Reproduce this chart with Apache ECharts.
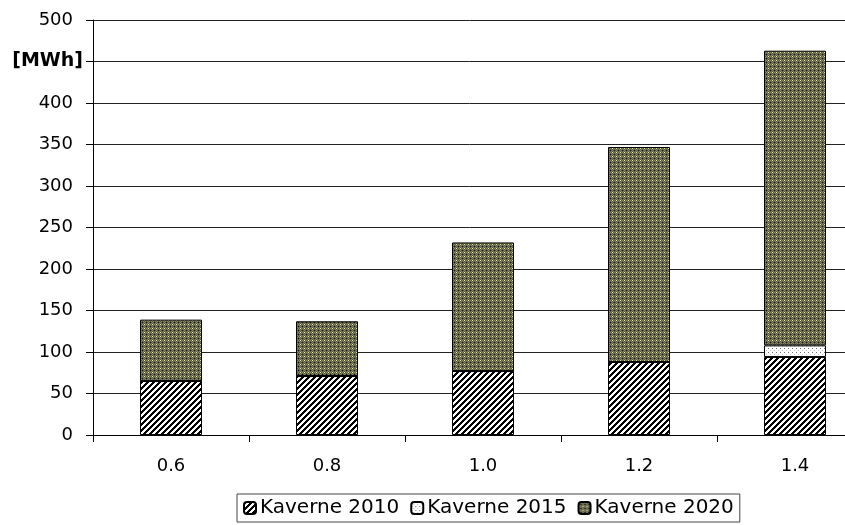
<!DOCTYPE html>
<html><head><meta charset="utf-8">
<script src="https://cdn.jsdelivr.net/npm/echarts@6/dist/echarts.min.js"></script>
<style>html,body{margin:0;padding:0;background:#fff}#c{width:845px;height:525px}</style>
</head><body><div id="c"></div>
<script>
const categories = ['0.6', '0.8', '1.0', '1.2', '1.4'];
const kaverne2010 = [65, 71, 77, 88, 94];
const kaverne2015 = [0, 0, 0, 0, 14];
const kaverne2020 = [74, 66, 155, 259, 355];
const seriesNames = ['Kaverne 2010', 'Kaverne 2015', 'Kaverne 2020'];

function makeTile(size, fn) {
  const cv = document.createElement('canvas');
  cv.width = size; cv.height = size;
  const ctx = cv.getContext('2d');
  const img = ctx.createImageData(size, size);
  for (let y = 0; y < size; y++) for (let x = 0; x < size; x++) {
    const c = fn(x, y);
    const i = (y * size + x) * 4;
    img.data[i] = c[0]; img.data[i+1] = c[1]; img.data[i+2] = c[2]; img.data[i+3] = 255;
  }
  ctx.putImageData(img, 0, 0);
  return cv;
}
const hatch = makeTile(6, (x, y) => ((x + y) % 6 < 3 ? [0,0,0] : [255,255,255]));
const dots = makeTile(4, (x, y) => {
  if (x === 0 && y === 0) return [110,110,110];
  if (x === 2 && y === 2) return [200,200,200];
  return [255,255,255];
});
const check = makeTile(4, (x, y) => {
  if (x === 0 && y === 0) return [235,235,170];
  if (x === 2 && y === 2) return [20,20,10];
  if ((x + y) % 2 === 1) return [90,90,66];
  return [130,130,100];
});

const chart = echarts.init(document.getElementById('c'));
const font = 'DejaVu Sans, sans-serif';
chart.setOption({
  animation: false,
  grid: { left: 93, width: 780, top: 20, height: 415, outerBoundsMode: 'none', containLabel: false },
  xAxis: {
    type: 'category', data: categories,
    axisLine: { lineStyle: { color: '#000', width: 1 } },
    axisTick: { show: true, length: 7, lineStyle: { color: '#000' } },
    axisLabel: { color: '#000', fontSize: 18, fontFamily: font, margin: 22 }
  },
  yAxis: {
    type: 'value', min: 0, max: 500, interval: 50,
    axisLine: { show: true, lineStyle: { color: '#000' } },
    axisTick: { show: true, inside: false, length: 7, lineStyle: { color: '#000' } },
    splitLine: { lineStyle: { color: '#222', width: 1 } },
    axisLabel: {
      color: '#000', fontSize: 18, fontFamily: font, margin: 20,
      formatter: v => v === 450 ? '{b|[MWh]}' : String(v),
      rich: { b: { fontWeight: 'bold', fontSize: 19, fontFamily: font, color: '#000', padding: [0, -10, 0, 0] } }
    }
  },
  legend: {
    left: 237, top: 494,
    padding: [2, 6, 2, 6],
    itemWidth: 12, itemHeight: 12, itemGap: 11,
    borderColor: '#444', borderWidth: 1,
    textStyle: { fontSize: 20, fontFamily: font, color: '#000', lineHeight: 24, padding: [0, 0, 0, -1] },
    data: seriesNames
  },
  series: [
    { name: seriesNames[0], type: 'bar', stack: 's', data: kaverne2010, barWidth: 62,
      itemStyle: { color: { image: hatch, repeat: 'repeat' }, borderColor: '#000', borderWidth: 1 } },
    { name: seriesNames[1], type: 'bar', stack: 's', data: kaverne2015, barWidth: 62,
      itemStyle: { color: { image: dots, repeat: 'repeat' }, borderColor: '#000', borderWidth: 1 } },
    { name: seriesNames[2], type: 'bar', stack: 's', data: kaverne2020, barWidth: 62,
      itemStyle: { color: { image: check, repeat: 'repeat' }, borderColor: '#000', borderWidth: 1 } }
  ]
});
</script></body></html>
